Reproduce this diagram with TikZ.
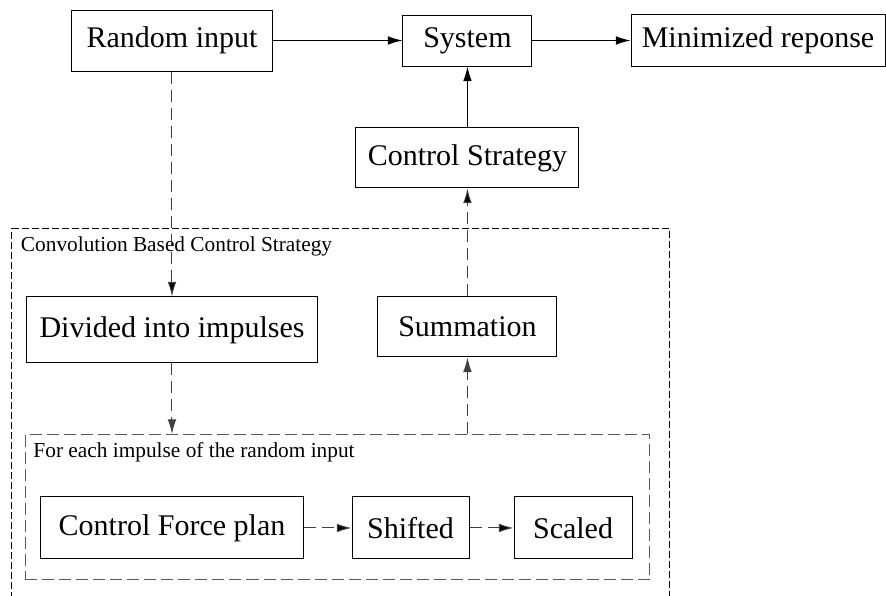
\documentclass[tikz,border=0pt]{standalone}
\usepackage{fontspec}
\setmainfont{Liberation Serif}
\usepackage{tikz}
\usetikzlibrary{arrows.meta,positioning,calc,fit}

\begin{document}
\begin{tikzpicture}[line width=0.75pt, >={Latex[length=11pt,width=6.5pt]},
    block/.style={draw, rectangle, inner sep=0pt, font=\fontsize{22.5}{27}\selectfont},
    groupbox/.style={draw, inner sep=0pt},
    grouplabel/.style={anchor=west, inner sep=0pt, font=\fontsize{16}{19}\selectfont},
    dashline/.style={dash pattern=on 9pt off 4.5pt, draw=black!75}]

    \useasboundingbox (-129pt,30.375pt) rectangle (535.5pt,-416.625pt);

    % Top row
    \node[block, minimum width=150pt, minimum height=45.75pt] (rand) {Random input};
    \node[block, minimum width=96.75pt, minimum height=38.25pt] (sys) [right of=rand, node distance=221.6pt] {System};
    \node[block, minimum width=190.5pt, minimum height=39pt] (resp) [right of=sys, node distance=217.9pt] {Minimized reponse};
    \node[block, minimum width=167.25pt, minimum height=45pt] (ctrl) [below of=sys, node distance=88.1pt] {Control Strategy};

    % Convolution part
    \node[block, minimum width=218.25pt, minimum height=49.5pt] (div) [below of=rand, node distance=217.1pt] {Divided into impulses};
    \node[block, minimum width=134.25pt, minimum height=45pt] (sum) [below of=ctrl, node distance=126.75pt] {Summation};
    \node[block, minimum width=196.5pt, minimum height=46.5pt] (plan) [below of=div, node distance=148.5pt] {Control Force plan};
    \node[block, minimum width=87.75pt, minimum height=46.5pt] (shift) [right of=plan, node distance=178.9pt] {Shifted};
    \node[block, minimum width=88.5pt, minimum height=46.5pt] (scal) [right of=shift, node distance=121.9pt] {Scaled};

    % Dashed boxes
    \node[groupbox, draw=black!65, dash pattern=on 9pt off 3.75pt, fit={($(plan.south west)+(-11.25pt,-15pt)$) ($(scal.north east)+(12.75pt,46.5pt)$)}] (inner) {};
    \node[grouplabel] (innlbl) at ($(inner.north west)+(6pt,-14pt)$) {For each impulse of the random input};
    \node[groupbox, dash pattern=on 5pt off 2.5pt, fit={($(div.north west)+(-10.5pt,51pt)$) ($(inner.south east)+(14.25pt,-30.75pt)$)}] (outer) {};
    \node[grouplabel] (outlbl) at ($(outer.north west)+(6.75pt,-13.5pt)$) {Convolution Based Control Strategy};

    % Solid arrows
    \path[->]
    (rand) edge (sys)
    (sys) edge (resp)
    (ctrl) edge (sys);

    % Dashed arrows
    \path[->, dashline]
    (rand) edge (div)
    (sum) edge (ctrl)
    (plan) edge (shift)
    (shift) edge (scal);
    \draw[->, dashline] (div.south) -- (div.south |- inner.north);
    \draw[->, dashline] (sum.south |- inner.north) -- (sum.south);

\end{tikzpicture}
\end{document}
